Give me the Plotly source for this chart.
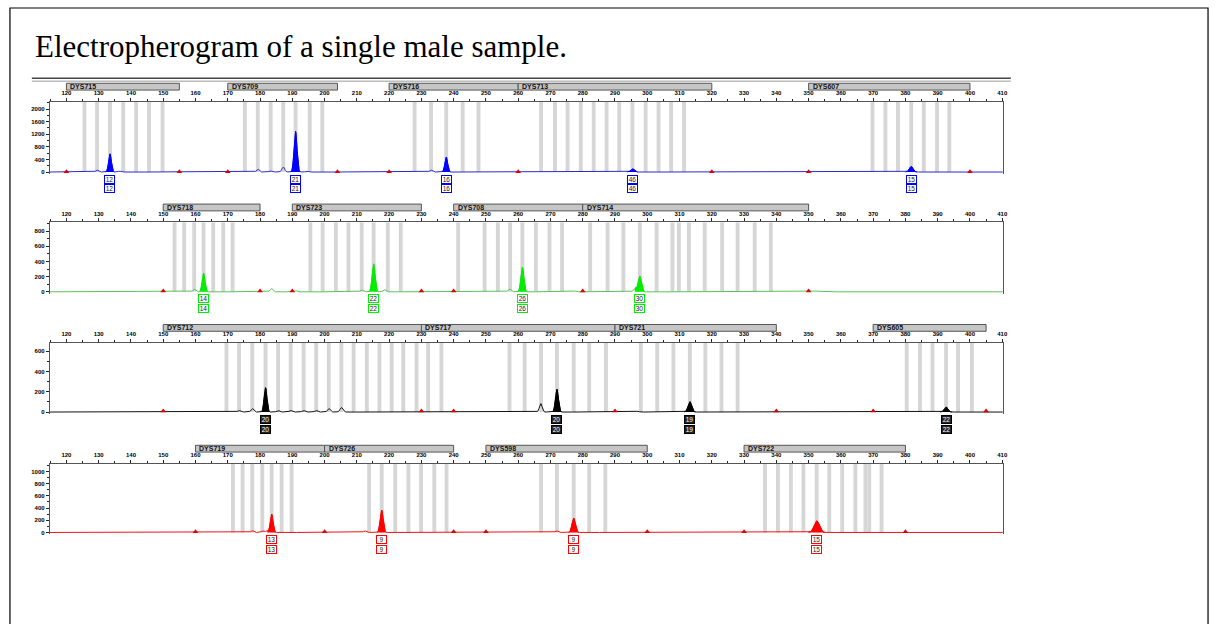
import numpy as np
import plotly.graph_objects as go

W, H = 1222, 624

# ---------------- data ----------------
x_ticks = list(range(120, 411, 10))

# Panel 1 (blue)
p1_loci = ["DYS715", "DYS709", "DYS716", "DYS713", "DYS607"]
p1_loci_start = [120, 170, 220, 260, 350]
p1_loci_end = [155, 204, 260, 320, 400]
p1_bins = [125.6, 129.5, 133.5, 137.6, 141.6, 145.6, 149.8,
           175.3, 179.3, 183.3, 187.2, 191.0, 195.4, 199.3,
           227.9, 233.0, 237.7, 242.8, 247.7,
           267.1, 271.4, 275.3, 279.4, 283.4, 287.4, 291.3, 295.4, 299.5, 303.5, 307.4, 311.4,
           369.8, 373.8, 377.7, 381.8, 385.7, 389.8, 393.6]
p1_allele_pos = [133.5, 191.0, 237.7, 295.4, 381.8]
p1_allele_height = [580, 1290, 476, 105, 178]
p1_allele_width = [0.42, 0.45, 0.42, 0.5, 0.55]
p1_allele_label = ["12", "21", "16", "46", "15"]
p1_minor_pos = [129.5, 136.5, 179.3, 183.3, 187.2, 194.5, 233.0]
p1_minor_height = [60, 30, 90, 35, 160, 30, 60]
p1_yticks = [0, 400, 800, 1200, 1600, 2000]

# Panel 2 (green)
p2_loci = ["DYS718", "DYS723", "DYS708", "DYS714"]
p2_loci_start = [150, 190, 240, 280]
p2_loci_end = [180, 230, 280, 350]
p2_bins = [153.5, 156.5, 159.6, 162.5, 165.5, 168.6, 171.5,
           195.6, 199.4, 203.5, 207.4, 211.5, 215.2, 219.6, 223.6,
           241.4, 249.6, 253.7, 257.5, 261.3, 265.5, 269.7, 273.6,
           282.3, 287.7, 292.6, 297.7, 302.9, 307.8, 309.8, 312.9, 317.8, 323.2, 328.0, 333.3, 338.3]
p2_allele_pos = [162.5, 215.2, 261.3, 297.7]
p2_allele_height = [245, 368, 324, 205]
p2_allele_width = [0.42, 0.45, 0.45, 0.5]
p2_allele_label = ["14", "22", "26", "30"]
p2_minor_pos = [159.6, 183.5, 191.0, 211.5, 218.5, 257.3, 277.4, 296.2, 351.5]
p2_minor_height = [35, 45, 15, 25, 30, 40, 12, 50, 10]
p2_yticks = [0, 200, 400, 600, 800]

# Panel 3 (black)
p3_loci = ["DYS712", "DYS717", "DYS721", "DYS605"]
p3_loci_start = [150, 230, 290, 370]
p3_loci_end = [240, 290, 340, 405]
p3_bins = [169.6, 173.5, 177.6, 181.7, 185.6, 189.5, 193.5, 197.4, 201.3, 205.2,
           209.0, 213.1, 217.0, 220.8, 224.4, 228.5, 232.1, 236.2,
           257.3, 262.0, 267.1, 272.0, 277.2, 282.0, 287.2,
           298.0, 303.1, 308.1, 313.2, 318.0, 323.0, 328.0,
           380.4, 384.5, 388.4, 392.6, 396.3, 400.6]
p3_allele_pos = [181.7, 272.0, 313.2, 392.6]
p3_allele_height = [240, 224, 102, 50]
p3_allele_width = [0.42, 0.45, 0.55, 0.55]
p3_allele_label = ["20", "20", "19", "22"]
p3_minor_pos = [173.5, 177.6, 185.6, 189.5, 193.5, 197.4, 201.3, 205.2, 267.0, 297.0]
p3_minor_height = [15, 35, 15, 15, 15, 15, 35, 45, 83, 8]
p3_yticks = [0, 200, 400, 600]

# Panel 4 (red)
p4_loci = ["DYS719", "DYS726", "DYS598", "DYS722"]
p4_loci_start = [160, 200, 250, 330]
p4_loci_end = [200, 240, 300, 380]
p4_bins = [171.6, 174.6, 177.6, 180.7, 183.6, 186.7, 189.8,
           213.8, 217.7, 221.9, 226.0, 229.9, 234.0, 237.8,
           267.1, 272.0, 277.2, 282.0, 287.0,
           336.5, 340.5, 344.5, 348.4, 352.5, 356.4, 360.4, 364.5, 367.6, 368.8, 372.6]
p4_allele_pos = [183.6, 217.7, 277.2, 352.5]
p4_allele_height = [300, 366, 234, 191]
p4_allele_width = [0.42, 0.45, 0.5, 0.8]
p4_allele_label = ["13", "9", "9", "15"]
p4_minor_pos = [177.6, 180.7, 182.0, 212.5, 271.9, 313.0]
p4_minor_height = [30, 25, 20, 25, 25, 12]
p4_yticks = [0, 200, 400, 600, 800, 1000]

# ---------------- layout / style ----------------
X_LEFT_PX, X_RIGHT_PX = 50, 1007
X_RANGE = [114.85, 410.2]

panels = [
    dict(loci=p1_loci, ls=p1_loci_start, le=p1_loci_end, bins=p1_bins,
         ap=p1_allele_pos, ah=p1_allele_height, aw=p1_allele_width, al=p1_allele_label,
         mp=p1_minor_pos, mh=p1_minor_height, yt=p1_yticks,
         line="#2a2ad0", fill="#0000ff", box_bg="white", box_fc="#222",
         p0=172.3, s=63 / 2000, pt=101.7, pb=174.5),
    dict(loci=p2_loci, ls=p2_loci_start, le=p2_loci_end, bins=p2_bins,
         ap=p2_allele_pos, ah=p2_allele_height, aw=p2_allele_width, al=p2_allele_label,
         mp=p2_minor_pos, mh=p2_minor_height, yt=p2_yticks,
         line="#5cbf5c", fill="#00ee00", box_bg="white", box_fc="#222",
         p0=292.3, s=0.076, pt=222.7, pb=294.3),
    dict(loci=p3_loci, ls=p3_loci_start, le=p3_loci_end, bins=p3_bins,
         ap=p3_allele_pos, ah=p3_allele_height, aw=p3_allele_width, al=p3_allele_label,
         mp=p3_minor_pos, mh=p3_minor_height, yt=p3_yticks,
         line="#111111", fill="#000000", box_bg="#222222", box_fc="white",
         p0=412.7, s=0.1015, pt=343.3, pb=414.5),
    dict(loci=p4_loci, ls=p4_loci_start, le=p4_loci_end, bins=p4_bins,
         ap=p4_allele_pos, ah=p4_allele_height, aw=p4_allele_width, al=p4_allele_label,
         mp=p4_minor_pos, mh=p4_minor_height, yt=p4_yticks,
         line="#ee1111", fill="#ff0000", box_bg="white", box_fc="#222",
         p0=533.3, s=0.061, pt=464.3, pb=535.3),
]

fig = go.Figure()
shapes, annotations = [], []
tickfont = dict(family="Liberation Sans, Arial", size=6, color="black", weight="bold")

xs = np.arange(X_RANGE[0], X_RANGE[1], 0.04)

for i, P in enumerate(panels):
    n = i + 1
    xa = "x" if n == 1 else f"x{n}"
    ya = "y" if n == 1 else f"y{n}"
    ytop = (P["p0"] - P["pt"]) / P["s"]
    ybot = -(P["pb"] - P["p0"]) / P["s"]
    dom_y = [1 - P["pb"] / H, 1 - P["pt"] / H]

    # profile built from the peak tables
    prof = np.zeros_like(xs)
    for c, h, w in zip(P["ap"], P["ah"], P["aw"]):
        prof += h * np.exp(-0.5 * ((xs - c) / w) ** 2)
    for c, h in zip(P["mp"], P["mh"]):
        prof += h * np.exp(-0.5 * ((xs - c) / 0.42) ** 2)

    fig.add_trace(go.Scatter(x=xs, y=prof, mode="lines", xaxis=xa, yaxis=ya,
                             line=dict(color=P["line"], width=1), showlegend=False,
                             hoverinfo="skip"))
    # filled called peaks
    for c, w in zip(P["ap"], P["aw"]):
        m = (xs > c - 3.2 * w) & (xs < c + 3.2 * w)
        fig.add_trace(go.Scatter(x=xs[m], y=prof[m], mode="lines", xaxis=xa, yaxis=ya,
                                 fill="tozeroy", fillcolor=P["fill"],
                                 line=dict(color=P["fill"], width=1), showlegend=False,
                                 hoverinfo="skip"))
    # locus range markers (red ticks on baseline)
    mk = sorted(set(P["ls"] + P["le"]))
    fig.add_trace(go.Scatter(x=mk, y=[10] * len(mk), mode="markers", xaxis=xa, yaxis=ya,
                             marker=dict(symbol="triangle-up", size=5, color="#e00000"),
                             showlegend=False, hoverinfo="skip"))

    # bins
    for b in P["bins"]:
        shapes.append(dict(type="rect", xref=xa, yref=ya, x0=b - 0.6, x1=b + 0.6,
                           y0=0, y1=ytop, fillcolor="#d6d6d6", line=dict(width=0),
                           layer="below"))
    # locus bars
    by0 = 1 - (P["pt"] - 11.5) / H
    by1 = 1 - (P["pt"] - 18.3) / H
    for name, a, b in zip(P["loci"], P["ls"], P["le"]):
        shapes.append(dict(type="rect", xref=xa, yref="paper", x0=a, x1=b, y0=by0, y1=by1,
                           fillcolor="#c6c6c6", line=dict(color="#555555", width=1)))
        annotations.append(dict(xref=xa, yref="paper", x=a + 0.6, y=(by0 + by1) / 2,
                                text=name, showarrow=False, xanchor="left", yanchor="middle",
                                font=dict(family="Liberation Sans, Arial", size=7,
                                          color="#111", weight="bold")))
    # allele label boxes
    for c, lab in zip(P["ap"], P["al"]):
        for off in (7.0, 17.0):
            annotations.append(dict(xref=xa, yref="paper", x=c, y=1 - (P["p0"] + off) / H,
                                    text=lab, showarrow=False, xanchor="center", yanchor="middle",
                                    font=dict(family="Liberation Sans, Arial", size=6.5,
                                              color=P["box_fc"]),
                                    bgcolor=P["box_bg"], bordercolor=P["fill"],
                                    borderwidth=1, borderpad=0, width=9, height=7))

    fig.layout[("xaxis" if n == 1 else f"xaxis{n}")] = dict(
        domain=[X_LEFT_PX / W, X_RIGHT_PX / W], anchor=ya, side="top", range=X_RANGE,
        tickmode="array", tickvals=x_ticks, ticktext=[str(t) for t in x_ticks],
        ticks="outside", ticklen=3, tickcolor="#222", tickfont=tickfont,
        minor=dict(dtick=5, tick0=120, ticks="outside", ticklen=2, tickcolor="#222"),
        showline=True, linecolor="#555", linewidth=1, showgrid=False, zeroline=False,
        fixedrange=True)
    fig.layout[("yaxis" if n == 1 else f"yaxis{n}")] = dict(
        domain=dom_y, anchor=xa, range=[ybot, ytop],
        tickmode="array", tickvals=P["yt"], ticktext=[str(t) for t in P["yt"]],
        ticks="outside", ticklen=3, tickcolor="#222", tickfont=tickfont,
        minor=dict(dtick=(P["yt"][1] - P["yt"][0]) / 2, ticks="outside", ticklen=2,
                   tickcolor="#222"),
        showline=True, mirror=True, linecolor="#555", linewidth=1,
        showgrid=False, zeroline=False, fixedrange=True)

# window double line
shapes.append(dict(type="line", xref="paper", yref="paper", x0=32 / W, x1=1015 / W,
                   y0=1 - 78.5 / H, y1=1 - 78.5 / H, line=dict(color="#444", width=1.5)))
shapes.append(dict(type="line", xref="paper", yref="paper", x0=32 / W, x1=1015 / W,
                   y0=1 - 81.3 / H, y1=1 - 81.3 / H, line=dict(color="#999", width=1)))
# page frame
shapes.append(dict(type="rect", xref="paper", yref="paper", x0=10 / W, x1=1213 / W,
                   y0=-0.2, y1=1 - 8 / H, line=dict(color="black", width=1.2)))

annotations.append(dict(xref="paper", yref="paper", x=33 / W, y=1 - 47 / H,
                        text="Electropherogram of a single male sample.", showarrow=False,
                        xanchor="left", yanchor="middle",
                        font=dict(family="Liberation Serif, Times New Roman", size=31,
                                  color="black")))

fig.update_layout(width=W, height=H, margin=dict(l=0, r=0, t=0, b=0),
                  paper_bgcolor="white", plot_bgcolor="white",
                  shapes=shapes, annotations=annotations, showlegend=False)

fig.write_html("out.html", config={"displayModeBar": False},
               post_script="document.body.style.margin='0';document.body.style.overflow='hidden';")
